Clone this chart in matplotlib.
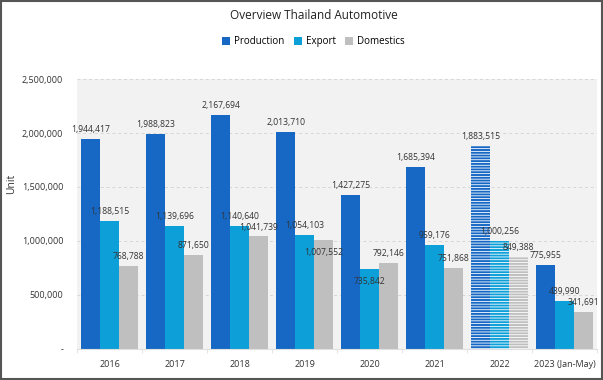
import matplotlib
matplotlib.use("Agg")
import matplotlib.pyplot as plt
from matplotlib.patches import Rectangle
from matplotlib.ticker import FuncFormatter
import numpy as np

years = ["2016", "2017", "2018", "2019", "2020", "2021", "2022", "2023 (Jan-May)"]
production = [1944417, 1988823, 2167694, 2013710, 1427275, 1685394, 1883515, 775955]
export = [1188515, 1139696, 1140640, 1054103, 735842, 959176, 1000256, 439990]
domestics = [768788, 871650, 1041739, 1007552, 792146, 751868, 849388, 341691]

series = [("Production", production, "#1668c4"),
          ("Export", export, "#0d9fd8"),
          ("Domestics", domestics, "#bfbfbf")]

plt.rcParams["font.family"] = ["Open Sans", "DejaVu Sans"]
plt.rcParams["hatch.linewidth"] = 0.6

fig = plt.figure(figsize=(6.03, 3.80), dpi=100)
ax = fig.add_axes([0.128, 0.082, 0.862, 0.710])
ax.set_facecolor("#f2f2f2")

x = np.arange(len(years))
w = 0.29
# labels Excel pushed down into the bar to avoid collisions
inside = {(3, 2), (4, 1)}
for k, (name, vals, color) in enumerate(series):
    pos = x + (k - 1) * w
    for i, (p, v) in enumerate(zip(pos, vals)):
        striped = years[i] == "2022"
        ax.bar(p, v, w, color=color, edgecolor="white" if striped else color,
               linewidth=0, hatch="------" if striped else None,
               label=name if i == 0 else None, zorder=2)
        if (i, k) in inside:
            ax.text(p, v - 70000, f"{v:,}", ha="center", va="top",
                    fontsize=6.2, color="#333333", zorder=3)
        else:
            ax.text(p, v + 45000, f"{v:,}", ha="center", va="bottom",
                    fontsize=6.2, color="#333333", zorder=3)

ax.set_xlim(-0.5, len(years) - 0.5)
ax.set_ylim(0, 2500000)
ax.set_yticks(np.arange(0, 2500001, 500000))
ax.yaxis.set_major_formatter(FuncFormatter(lambda v, _: "-" if v == 0 else f"{v:,.0f}"))
ax.yaxis.grid(True, linestyle=(0, (3, 3)), color="#d6d6d6", linewidth=0.7, zorder=0)
ax.set_axisbelow(True)
ax.set_xticks(x)
ax.set_xticklabels(years)
ax.set_xticks(np.arange(-0.5, len(years)), minor=True)
ax.tick_params(axis="x", which="major", length=0, pad=8, labelsize=6.5, colors="#333333")
ax.tick_params(axis="x", which="minor", length=3, color="#e0e0e0")
ax.tick_params(axis="y", length=0, pad=10, labelsize=6.5, colors="#333333")
for s in ["top", "right", "left"]:
    ax.spines[s].set_visible(False)
ax.spines["bottom"].set_color("#e0e0e0")

fig.text(0.02, 0.515, "Unit", rotation=90, ha="center", va="center",
         fontsize=7.5, color="#333333")
fig.text(0.52, 0.96, "Overview Thailand Automotive", ha="center", va="center",
         fontsize=8.5, color="#222222")
fig.legend(loc="center", bbox_to_anchor=(0.52, 0.89), ncol=3, frameon=False,
           fontsize=7, handlelength=0.8, handleheight=0.8, handletextpad=0.4,
           columnspacing=1.0)

fig.patches.append(Rectangle((0.002, 0.003), 0.996, 0.994, transform=fig.transFigure,
                             fill=False, edgecolor="#555555", linewidth=1.5))

fig.savefig("out.png", dpi=100)
